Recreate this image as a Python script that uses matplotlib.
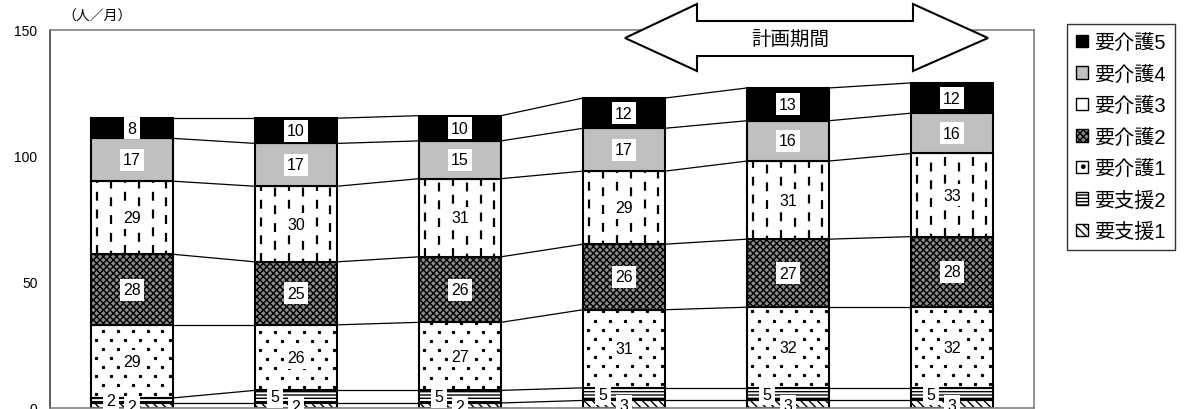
import matplotlib
matplotlib.use("Agg")
import matplotlib.pyplot as plt
from matplotlib.patches import Polygon, Patch
import numpy as np

plt.rcParams['font.family'] = ['Liberation Sans', 'Noto Sans CJK JP']
plt.rcParams['hatch.linewidth'] = 1.0

# data (bottom to top)
years = ['1', '2', '3', '4', '5', '6']
shien1 = [2, 2, 2, 3, 3, 3]
shien2 = [2, 5, 5, 5, 5, 5]
kaigo1 = [29, 26, 27, 31, 32, 32]
kaigo2 = [28, 25, 26, 26, 27, 28]
kaigo3 = [29, 30, 31, 29, 31, 33]
kaigo4 = [17, 17, 15, 17, 16, 16]
kaigo5 = [8, 10, 10, 12, 13, 12]

series = [
    ('要支援1', shien1),
    ('要支援2', shien2),
    ('要介護1', kaigo1),
    ('要介護2', kaigo2),
    ('要介護3', kaigo3),
    ('要介護4', kaigo4),
    ('要介護5', kaigo5),
]
styles = {
    '要支援1': dict(facecolor='white', hatch='\\\\\\\\'),
    '要支援2': dict(facecolor='white', hatch='-----'),
    '要介護1': dict(facecolor='white', hatch=None),
    '要介護2': dict(facecolor='#8a8a8a', hatch='xxxxx'),
    '要介護3': dict(facecolor='white', hatch=None),
    '要介護4': dict(facecolor='#c0c0c0', hatch=None),
    '要介護5': dict(facecolor='black', hatch=None),
}

fig = plt.figure(figsize=(11.87, 4.10), dpi=100)
ax = fig.add_axes([50 / 1187, 1 / 410, 984 / 1187, 378 / 410])

x = np.arange(len(years))
w = 0.5
bottom = np.zeros(len(years))
levels = []
bars_by_name = {}
for name, vals in series:
    vals = np.array(vals, dtype=float)
    st = styles[name]
    bars = ax.bar(x, vals, w, bottom=bottom, color=st['facecolor'],
                  edgecolor='black', linewidth=1.5, hatch=st['hatch'], zorder=2)
    bars_by_name[name] = bars
    # value labels
    for i, v in enumerate(vals):
        dx = -0.13 if name == '要支援2' else 0
        yc = bottom[i] + v / 2
        if name == '要支援1':
            yc = bottom[i] + v / 2 - 0.6
        ax.text(x[i] + dx, yc, f'{int(v)}', ha='center', va='center', fontsize=11.5,
                zorder=5, bbox=dict(facecolor='white', edgecolor='none', pad=2.5))
    bottom = bottom + vals
    levels.append(bottom.copy())

# 要介護1: sparse staggered dots clipped to bars
for b in bars_by_name['要介護1']:
    y0, y1 = b.get_y(), b.get_y() + b.get_height()
    rows = np.arange(y0 + 1.5, y1, 3.6)
    for r, yy in enumerate(rows):
        xs = b.get_x() + np.arange(0.03 + 0.045 * (r % 2), b.get_width(), 0.09)
        pts, = ax.plot(xs, np.full(len(xs), yy), linestyle='none', marker='s',
                       ms=1.3, color='black', zorder=3)
        pts.set_clip_path(b)

# 要介護3: dashed vertical lines clipped to bars
for b in bars_by_name['要介護3']:
    xs = b.get_x() + np.arange(0.035, b.get_width(), 0.085)
    y0, y1 = b.get_y(), b.get_y() + b.get_height()
    for k, xx in enumerate(xs):
        ln, = ax.plot([xx, xx], [y0, y1], color='black', lw=1.6,
                      linestyle=(2.5 * (k % 2), (4, 4)), zorder=3)
        ln.set_clip_path(b)

# series lines between bars
for lev in levels:
    for i in range(len(years) - 1):
        ax.plot([x[i] + w / 2, x[i + 1] - w / 2], [lev[i], lev[i + 1]],
                color='black', lw=0.9, zorder=1)

ax.set_xlim(-0.5, len(years) - 0.5)
ax.set_ylim(0, 150)
ax.set_yticks([0, 50, 100, 150])
ax.set_xticks([])
ax.tick_params(axis='y', length=0, labelsize=10, pad=9)
for s in ax.spines.values():
    s.set_color('#808080')
    s.set_linewidth(1.2)
ax.spines['left'].set_color('#404040')

fig.text(62 / 1187, 1 - 17 / 410, '（人／月）', fontsize=10, va='center', ha='left')

# 計画期間 arrow
pts_px = [(625, 39), (697, 5), (697, 22), (913, 22), (913, 5), (988, 39),
          (913, 72), (913, 57), (697, 57), (697, 72)]
pts = [(px / 1187, 1 - py / 410) for px, py in pts_px]
fig.patches.append(Polygon(pts, closed=True, transform=fig.transFigure,
                           facecolor='white', edgecolor='black', lw=1.5, zorder=10))
fig.text(790 / 1187, 1 - 40 / 410, '計画期間', fontsize=14, ha='center', va='center', zorder=11)

# legend
leg_hatch = {'要介護1': '.', '要介護3': '|'}
handles = []
for name, _ in reversed(series):
    st = styles[name]
    handles.append(Patch(facecolor=st['facecolor'], edgecolor='black', lw=1,
                         hatch=leg_hatch.get(name, st['hatch']), label=name))
leg = fig.legend(handles=handles, loc='upper left', bbox_to_anchor=(1067 / 1187, 1 - 25 / 410),
                 fontsize=14.5, frameon=True, fancybox=False, handlelength=0.6, handleheight=0.6,
                 handletextpad=0.3, labelspacing=0.62, borderpad=0.45, borderaxespad=0)
leg.get_frame().set_edgecolor('black')
leg.get_frame().set_linewidth(1)

fig.savefig('out.png', dpi=100)
